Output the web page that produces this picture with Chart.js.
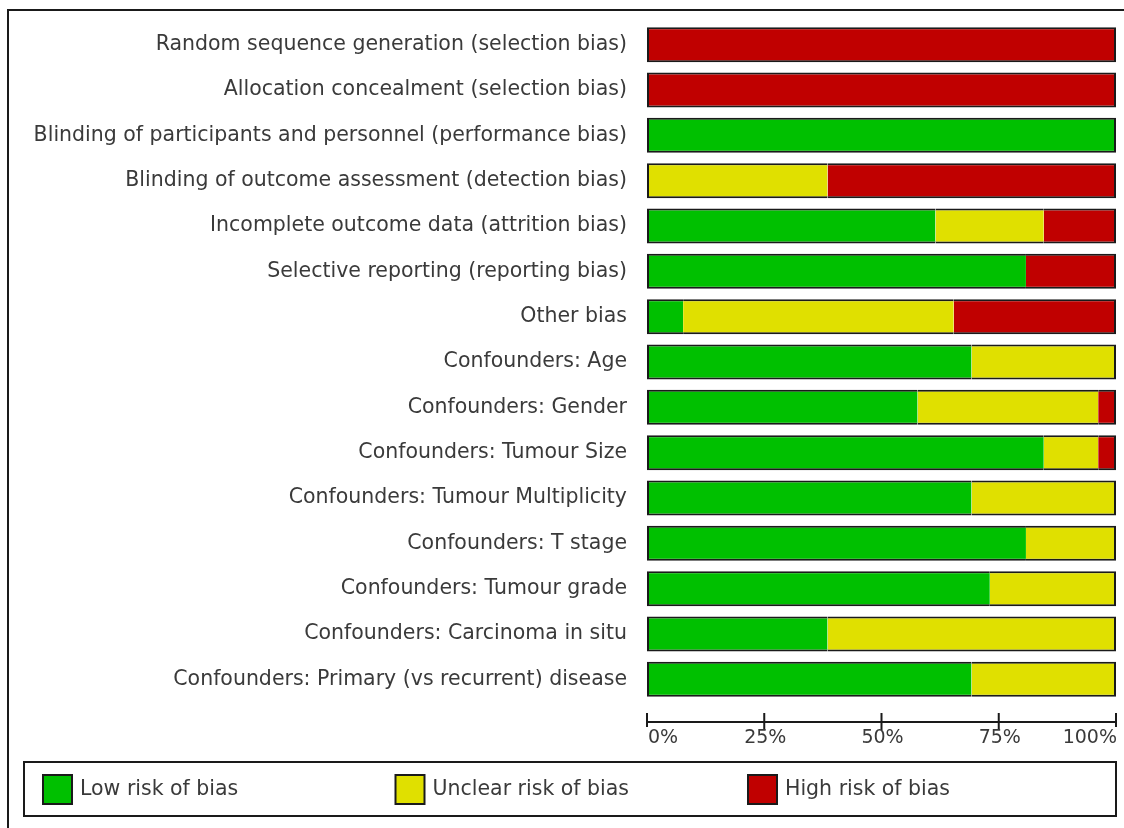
<!DOCTYPE html>
<html>
<head>
<meta charset="utf-8">
<title>Risk of bias summary</title>
<script src="https://cdn.jsdelivr.net/npm/chart.js@4.4.1/dist/chart.umd.min.js"></script>
<style>
  html, body { margin: 0; padding: 0; background: #fff; }
  canvas { display: block; }
</style>
</head>
<body>
<canvas id="rob-chart" width="1124" height="828"></canvas>
<script>
// Data (percent of studies per judgement)
const categories = [
    'Random sequence generation (selection bias)',
    'Allocation concealment (selection bias)',
    'Blinding of participants and personnel (performance bias)',
    'Blinding of outcome assessment (detection bias)',
    'Incomplete outcome data (attrition bias)',
    'Selective reporting (reporting bias)',
    'Other bias',
    'Confounders: Age',
    'Confounders: Gender',
    'Confounders: Tumour Size',
    'Confounders: Tumour Multiplicity',
    'Confounders: T stage',
    'Confounders: Tumour grade',
    'Confounders: Carcinoma in situ',
    'Confounders: Primary (vs recurrent) disease'
];
const lowRisk     = [0, 0, 100, 0, 61.5, 80.8, 7.7, 69.2, 57.7, 84.6, 69.2, 80.8, 73.1, 38.5, 69.2];
const unclearRisk = [0, 0, 0, 38.5, 23.1, 0, 57.7, 30.8, 38.5, 11.6, 30.8, 19.2, 26.9, 61.5, 30.8];
const highRisk    = [100, 100, 0, 61.5, 15.4, 19.2, 34.6, 0, 3.8, 3.8, 0, 0, 0, 0, 0];
const seriesNames = ['Low risk of bias', 'Unclear risk of bias', 'High risk of bias'];
const tickValues  = [0, 25, 50, 75, 100];
const tickLabels  = ['0%', '25%', '50%', '75%', '100%'];

const colours = ['#00c000', '#e0e000', '#c00000'];
const allSeries = [lowRisk, unclearRisk, highRisk];
const textColour = '#3a3a3a';
const lineColour = '#1a1a1a';

// only the outer ends of each stacked bar get a left/right border
function segmentBorder(ctx) {
    const i = ctx.dataIndex;
    const vals = allSeries.map(s => s[i]);
    const first = vals.findIndex(v => v > 0);
    let last = -1;
    vals.forEach((v, k) => { if (v > 0) last = k; });
    return {
        top: 2,
        bottom: 2,
        left: ctx.datasetIndex === first ? 2 : 0,
        right: ctx.datasetIndex === last ? 2 : 0
    };
}

const frameAxisLegend = {
    id: 'frameAxisLegend',
    beforeDraw(chart) {
        const c = chart.ctx;
        c.save();
        c.strokeStyle = lineColour;
        c.lineWidth = 2;
        c.beginPath();
        c.moveTo(8, chart.height);
        c.lineTo(8, 10);
        c.lineTo(chart.width, 10);
        c.stroke();
        c.restore();
    },
    afterDraw(chart) {
        const c = chart.ctx;
        const x = chart.scales.x;
        const axisY = chart.chartArea.bottom + 20;
        c.save();
        c.strokeStyle = lineColour;
        c.lineWidth = 2;
        c.beginPath();
        c.moveTo(x.getPixelForValue(0), axisY);
        c.lineTo(x.getPixelForValue(100), axisY);
        tickValues.forEach((v, k) => {
            const px = x.getPixelForValue(v);
            const end = (k === 0 || k === tickValues.length - 1);
            c.moveTo(px, axisY - 9);
            c.lineTo(px, axisY + (end ? 5 : 8));
        });
        c.stroke();

        c.fillStyle = textColour;
        c.font = '19px "DejaVu Sans"';
        c.textBaseline = 'top';
        tickValues.forEach((v, k) => {
            const px = x.getPixelForValue(v);
            c.textAlign = k === 0 ? 'left' : (k === tickValues.length - 1 ? 'right' : 'center');
            c.fillText(tickLabels[k], px + 1, axisY + 7);
        });

        // legend box
        const box = { left: 24, top: 762, right: 1116, bottom: 816 };
        c.strokeStyle = lineColour;
        c.lineWidth = 2;
        c.strokeRect(box.left, box.top, box.right - box.left, box.bottom - box.top);
        c.font = '20.5px "DejaVu Sans"';
        c.textAlign = 'left';
        c.textBaseline = 'middle';
        const midY = (box.top + box.bottom) / 2;
        chart.data.datasets.forEach((ds, k) => {
            const sx = box.left + 19 + k * 352.5;
            c.fillStyle = ds.backgroundColor;
            c.fillRect(sx, midY - 14, 29, 29);
            c.strokeStyle = lineColour;
            c.lineWidth = 2;
            c.strokeRect(sx, midY - 14, 29, 29);
            c.fillStyle = textColour;
            c.fillText(ds.label, sx + 37, midY + 1);
        });
        c.restore();
    }
};

new Chart(document.getElementById('rob-chart'), {
    type: 'bar',
    data: {
        labels: categories,
        datasets: seriesNames.map((name, k) => ({
            label: name,
            data: allSeries[k],
            backgroundColor: colours[k],
            borderColor: lineColour,
            borderWidth: segmentBorder,
            borderSkipped: false,
            categoryPercentage: 1,
            barPercentage: 0.772
        }))
    },
    options: {
        indexAxis: 'y',
        responsive: false,
        animation: false,
        devicePixelRatio: 1,
        layout: { padding: { top: 22, bottom: 126, left: 0, right: 8 } },
        plugins: {
            legend: { display: false },
            tooltip: { enabled: false }
        },
        scales: {
            x: {
                stacked: true,
                min: 0,
                max: 100,
                display: false
            },
            y: {
                stacked: true,
                grid: { display: false, drawTicks: false },
                border: { display: false },
                afterFit(scale) {
                    scale.width = 647;
                    scale.paddingTop = 0;
                    scale.paddingBottom = 0;
                },
                ticks: {
                    padding: 20,
                    color: textColour,
                    font: { family: 'DejaVu Sans', size: 20.5 }
                }
            }
        }
    },
    plugins: [frameAxisLegend]
});
</script>
</body>
</html>
